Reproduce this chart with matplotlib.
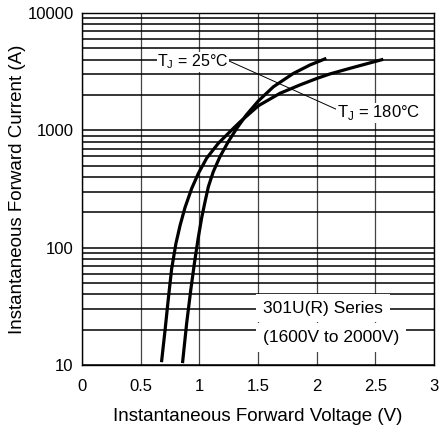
import numpy as np
import matplotlib
matplotlib.use("Agg")
import matplotlib.pyplot as plt
from matplotlib.ticker import LogLocator, FixedLocator, NullFormatter

plt.rcParams['font.family'] = ['Liberation Sans', 'DejaVu Sans']

# forward characteristic
v_25 = [0.858, 0.892, 0.927, 0.958, 0.99, 1.02, 1.05, 1.077, 1.119, 1.176,
        1.247, 1.319, 1.40, 1.503, 1.631, 1.80, 1.944, 2.07]
i_25 = [10.7, 22.7, 43.6, 73.6, 120, 180, 250, 331, 444, 597,
        801, 1040, 1350, 1780, 2350, 3050, 3610, 4060]

v_180 = [0.679, 0.708, 0.736, 0.764, 0.80, 0.836, 0.878, 0.935, 0.992, 1.063,
         1.162, 1.276, 1.347, 1.503, 1.688, 1.858, 2.006, 2.114, 2.285, 2.555]
i_180 = [10.9, 19.9, 37, 66, 108, 155, 220, 320, 430, 580,
         776, 1007, 1180, 1620, 2070, 2438, 2780, 3027, 3380, 4000]

x_ticks = [0, 0.5, 1, 1.5, 2, 2.5, 3]
x_labels = ['0', '0.5', '1', '1.5', '2', '2.5', '3']
y_ticks = [10, 100, 1000, 10000]
y_labels = ['10', '100', '1000', '10000']

fig = plt.figure(figsize=(4.41, 4.34), dpi=100)
ax = fig.add_axes([0.186, 0.159, 0.798, 0.811])

ax.set_yscale('log')
ax.set_xlim(0, 3)
ax.set_ylim(10, 10000)

ax.xaxis.set_major_locator(FixedLocator(x_ticks))
ax.set_xticklabels(x_labels)
ax.yaxis.set_major_locator(FixedLocator(y_ticks))
ax.set_yticklabels(y_labels)
ax.yaxis.set_minor_locator(LogLocator(base=10, subs=np.arange(2, 10)))
ax.yaxis.set_minor_formatter(NullFormatter())

ax.tick_params(which='both', length=0, labelsize=12)
ax.tick_params(axis='x', pad=10)
ax.tick_params(axis='y', pad=6)
ax.grid(True, which='both', axis='y', color='black', linewidth=1.1)
ax.grid(True, which='major', axis='x', color='#444444', linewidth=0.9)
for s in ax.spines.values():
    s.set_linewidth(1.0)

ax.plot(v_25, i_25, color='black', linewidth=2.3, zorder=3)
ax.plot(v_180, i_180, color='black', linewidth=2.3, zorder=3)

# leader line between the two temperature labels
ax.plot([1.253, 2.18], [3900, 1493], color='black', linewidth=0.7, zorder=4)

box = dict(facecolor='white', edgecolor='none', pad=0.5)
ax.text(0.946, 3830, r'T$_\mathregular{J}$ = 25°C', fontsize=11.5, ha='center', va='center',
        bbox=box, zorder=5)
ax.text(2.53, 1406, r'T$_\mathregular{J}$ = 180°C', fontsize=12, ha='center', va='center',
        bbox=box, zorder=5)

series_box = dict(facecolor='white', edgecolor='none', pad=5)
ax.text(1.545, 30.6, '301U(R) Series', fontsize=12.5, ha='left', va='center',
        bbox=series_box, zorder=5)
ax.text(1.545, 17.3, '(1600V to 2000V)', fontsize=12.5, ha='left', va='center',
        bbox=series_box, zorder=6)

ax.set_xlabel('Instantaneous Forward Voltage (V)', fontsize=13.5, labelpad=10)
ax.set_ylabel('Instantaneous Forward Current (A)', fontsize=13.5, labelpad=1)

fig.savefig('out.png', dpi=100)
